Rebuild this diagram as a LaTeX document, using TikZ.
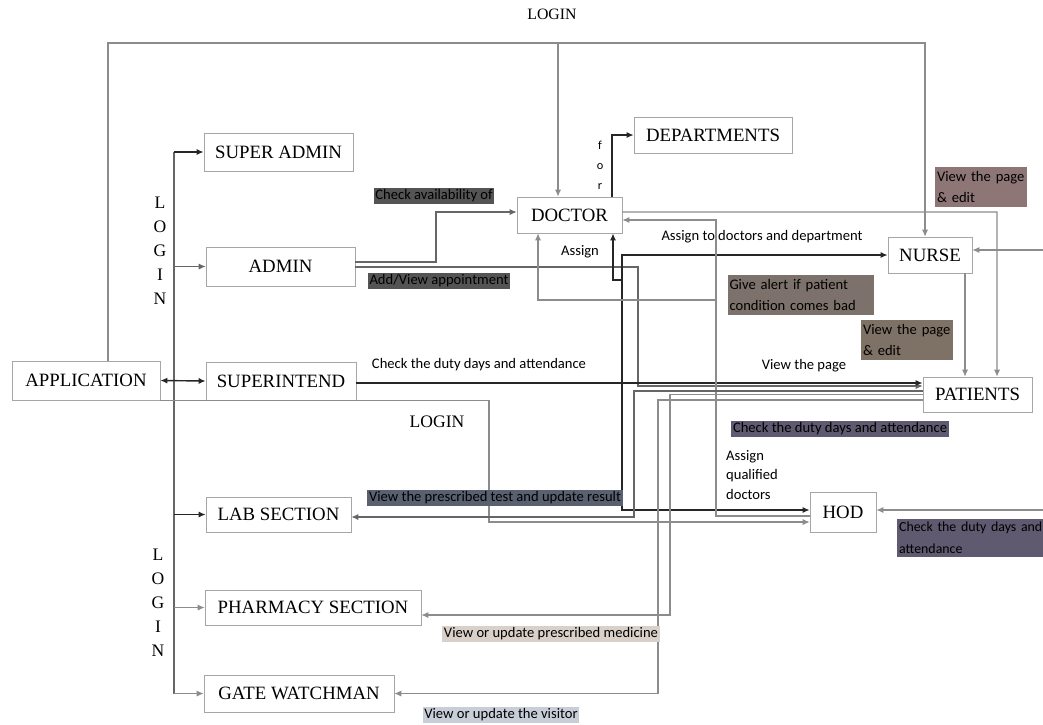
\documentclass[tikz,border=0pt]{standalone}
\usepackage{fontspec}
\setmainfont{Liberation Serif}
\newfontfamily\lblfont{Carlito}
\usetikzlibrary{arrows.meta}
\definecolor{tagdark}{HTML}{545454}
\definecolor{tagmauve}{HTML}{8E7677}
\definecolor{tagbrown}{HTML}{7D726B}
\definecolor{tagbrowntwo}{HTML}{7E7165}
\definecolor{tagpurple}{HTML}{5F5A6F}
\definecolor{tagslate}{HTML}{596170}
\definecolor{tagbeige}{HTML}{D9D0C9}
\definecolor{tagblue}{HTML}{C8CED7}
\begin{document}
\begin{tikzpicture}[x=0.02cm, y=-0.02cm, >={Latex[length=4pt,width=3.5pt]},
    box/.style ={draw=gray!70, fill=white, font=\fontsize{10.7}{12}\selectfont, inner sep=0pt},
    tag/.style ={font=\lblfont\fontsize{8.3}{10}\selectfont, inner sep=1pt},
    twoline/.style ={font=\lblfont\fontsize{8.3}{12.5}\selectfont, align=left, inner ysep=2pt},
    dline/.style ={draw=black!85, line width=0.8pt},
    mline/.style ={draw=black!60, line width=0.6pt},
    gline/.style ={draw=black!45, line width=0.6pt}]
   \useasboundingbox (0,0) rectangle (1043,724);
   % boxes
   \node[box, minimum width=2.96cm, minimum height=0.78cm] (app) at (86,380.5) {APPLICATION};
   \node[box, minimum width=2.98cm, minimum height=0.76cm] (sadmin) at (278.5,152) {SUPER ADMIN};
   \node[box, minimum width=2.98cm, minimum height=0.78cm] (admin) at (280.5,266.5) {ADMIN};
   \node[box, minimum width=3.00cm, minimum height=0.76cm] (supt) at (281,381) {SUPERINTEND};
   \node[box, minimum width=2.90cm, minimum height=0.70cm] (lab) at (278.5,514.5) {LAB SECTION};
   \node[box, minimum width=4.32cm, minimum height=0.70cm] (pharm) at (313,607.5) {PHARMACY SECTION};
   \node[box, minimum width=3.80cm, minimum height=0.74cm] (gate) at (299,693.5) {GATE WATCHMAN};
   \node[box, minimum width=2.10cm, minimum height=0.72cm] (doctor) at (569.5,215) {DOCTOR};
   \node[box, minimum width=3.16cm, minimum height=0.72cm] (dept) at (713,135) {DEPARTMENTS};
   \node[box, minimum width=1.68cm, minimum height=0.72cm] (nurse) at (930,255) {NURSE};
   \node[box, minimum width=2.18cm, minimum height=0.70cm] (patients) at (977.5,394.5) {PATIENTS};
   \node[box, minimum width=1.32cm, minimum height=0.80cm] (hod) at (843,512) {HOD};
   % login labels
   \node[font=\fontsize{9}{10}\selectfont] (logintop) at (552,14) {LOGIN};
   \node[font=\fontsize{10}{13.6}\selectfont, align=center] (loginup) at (160,251) {L\\O\\G\\I\\N};
   \node[font=\fontsize{10}{13.6}\selectfont, align=center] (logindown) at (158,603) {L\\O\\G\\I\\N};
   \node[font=\fontsize{10}{12}\selectfont] (loginmid) at (437,422) {LOGIN};
   \node[tag, align=center, font=\lblfont\fontsize{7}{11.3}\selectfont] (for) at (600,165) {f\\o\\r};
   % bend points
   \coordinate (f1) at (558,43);
   \coordinate (t1) at (174,152);
   \coordinate (k1) at (436,240);
   \coordinate (k2) at (638,300);
   \coordinate (s1) at ([yshift=-0.04cm]supt.east);
   \coordinate (d1) at (613,280);
   \coordinate (d2) at (622,510);
   \coordinate (h1) at (716,300);
   \coordinate (a1) at (538,300);
   \coordinate (r1) at (997,212);
   \coordinate (n1) at (965,300);
   \coordinate (p1) at (612,170);
   \coordinate (e1) at (1043,250);
   \coordinate (e2) at (1043,510);
   \coordinate (g1) at (489,460);
   \coordinate (l1) at (634,450);
   \coordinate (m1) at (670,500);
   \coordinate (w1) at (658,550);
   % connectors
   \draw[gline, ->] ([xshift=0.44cm]app.north) |- (f1) -| ([xshift=-0.1cm]nurse.north);
   \draw[gline, ->] (f1) -- (f1 |- doctor.north);
   \draw[mline] (t1) -- (t1 |- gate);
   \draw[dline, ->] (t1) -- (sadmin.west);
   \draw[mline, ->] (t1 |- admin) -- (admin.west);
   \draw[dline, <->] (app.east) -- (supt.west);
   \draw[dline, ->] (t1 |- lab) -- (lab.west);
   \draw[gline, ->] (t1 |- pharm) -- (pharm.west);
   \draw[gline, ->] (t1 |- gate) -- (gate.west);
   \draw[mline, ->] ([yshift=0.09cm]admin.east) -| (k1) |- ([yshift=0.06cm]doctor.west);
   \draw[mline, ->] ([yshift=-0.01cm]admin.east) -| (k2) |- ([yshift=0.17cm]patients.west);
   \draw[dline, ->] (s1) -- (s1 -| patients.west);
   \draw[dline, <->] (d1 |- doctor.south) -- (d1) -| (d2) -- (d2 -| hod.west);
   \draw[dline, ->] (d2 |- d1) -- (d2 |- nurse) -- (nurse.west);
   \draw[gline, ->] ([yshift=-0.08cm]hod.west) -| (h1) |- ([yshift=-0.1cm]doctor.east);
   \draw[gline, ->] (h1) -- (a1) -- (a1 |- doctor.south);
   \draw[gline, ->] ([yshift=0.06cm]doctor.east) -- (r1) -- (r1 |- patients.north);
   \draw[gline, ->] (n1 |- nurse.south) -- (n1 |- patients.north);
   \draw[dline, ->] (p1 |- doctor.north) -- (p1 |- dept.west) -- (dept.west);
   \draw[gline, ->] (e1) -- (e1 -| nurse.east);
   \draw[gline, ->] (e2) -- (e2 -| hod.east);
   \draw[gline, ->] (app.south east) -| (g1) |- ([yshift=-0.2cm]hod.west);
   \draw[mline, ->] ([yshift=0.07cm]patients.west) -| (l1) |- ([yshift=-0.05cm]lab.east);
   \draw[gline, ->] (patients.west) -| (m1) |- ([yshift=-0.15cm]pharm.east);
   \draw[gline, ->] ([yshift=-0.11cm]patients.west) -| (w1) |- (gate.east);
   % connector labels
   \node[tag, fill=tagdark] (chkav) at (434,196) {Check availability of};
   \node[tag, fill=tagdark] (addview) at (439,281) {Add/View appointment};
   \node[tag, twoline, fill=tagmauve, text width=1.76cm] (nedit) at (981,187) {View the page\\\& edit};
   \node[tag, twoline, fill=tagbrown, text width=2.86cm] (alert) at (801,295) {Give alert if patient\\condition comes bad};
   \node[tag, twoline, fill=tagbrowntwo, text width=1.76cm] (pedit) at (907,340) {View the page\\\& edit};
   \node[tag] (chkduty) at (479,365) {Check the duty days and attendance};
   \node[tag] (viewpage) at (804,366) {View the page};
   \node[tag, fill=tagpurple] (hodduty) at (840,429) {Check the duty days and attendance};
   \node[tag, align=left, font=\lblfont\fontsize{8.3}{11.3}\selectfont] (qual) at (752,475) {Assign\\qualified\\doctors};
   \node[tag, twoline, font=\lblfont\fontsize{7.9}{12.5}\selectfont, fill=tagpurple, text width=2.9cm, anchor=west] (hodduty2) at (897,538) {Check the duty days and\\attendance};
   \node[tag] (assign) at (580,252) {Assign};
   \node[tag] (assigndoc) at (762,237) {Assign to doctors and department};
   \node[tag, fill=tagslate] (labres) at (495,498) {View the prescribed test and update result};
   \node[tag, fill=tagbeige] (medi) at (551,634) {View or update prescribed medicine};
   \node[tag, fill=tagblue] (visit) at (501,715) {View or update the visitor};
\end{tikzpicture}
\end{document}
